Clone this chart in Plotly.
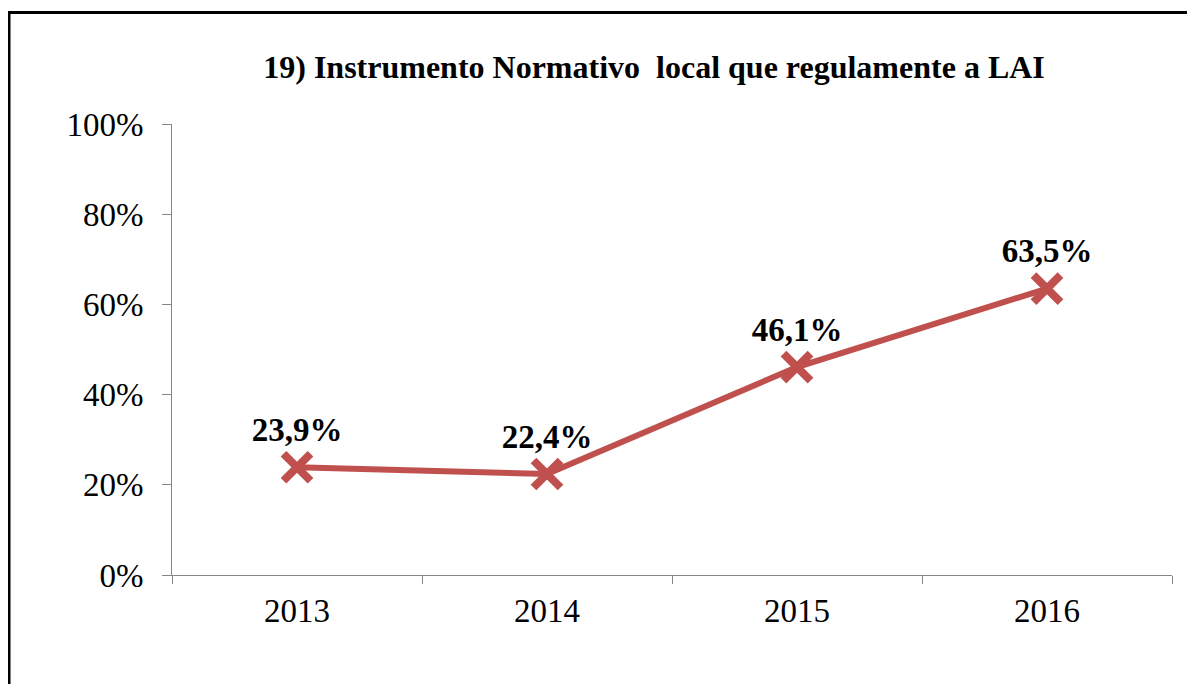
import plotly.graph_objects as go

anos = ['2013', '2014', '2015', '2016']
percentuais = [0.239, 0.224, 0.461, 0.635]
titulo = '19) Instrumento Normativo  local que regulamente a LAI'

cor_linha = '#C0504D'
cor_eixo = '#868686'
fonte = 'Liberation Serif'

fig = go.Figure()
fig.add_trace(go.Scatter(
    x=anos,
    y=percentuais,
    mode='lines+markers+text',
    line=dict(color=cor_linha, width=6),
    marker=dict(symbol='x-thin', size=27, line=dict(color=cor_linha, width=8)),
    texttemplate='%{y:.1%}',
    textposition='top center',
    textfont=dict(family=fonte, size=33, color='black', weight='bold'),
    cliponaxis=False,
    showlegend=False,
))

# a página tem 8px de margem no body, por isso tudo vai 8px para cima/esquerda
fig.update_layout(
    width=1195,
    height=684,
    margin=dict(l=164, r=31, t=116, b=117),
    paper_bgcolor='white',
    plot_bgcolor='white',
    separators=',.',
    font=dict(family=fonte, color='black'),
    title=dict(
        text='<b>' + titulo + '</b>',
        x=0.482, xref='paper', xanchor='center',
        y=1 - 59 / 684, yref='container', yanchor='middle',
        font=dict(family=fonte, size=32, color='black'),
    ),
    shapes=[dict(
        type='rect', xref='paper', yref='paper',
        x0=-0.163, x1=1.05, y0=-0.4, y1=1.247,
        line=dict(color='black', width=3),
        fillcolor='rgba(0,0,0,0)', layer='below',
    )],
)

fig.update_xaxes(
    type='category',
    range=[-0.5, 3.5],
    showline=True, linecolor=cor_eixo, linewidth=1,
    ticks='outside', tickson='boundaries', ticklen=8, tickcolor=cor_eixo,
    ticklabelstandoff=6,
    showgrid=False, zeroline=False,
    tickfont=dict(family=fonte, size=33, color='black'),
)
fig.update_yaxes(
    range=[0, 1],
    dtick=0.2,
    tickformat='.0%',
    showline=True, linecolor=cor_eixo, linewidth=1,
    ticks='outside', ticklen=9, tickcolor=cor_eixo,
    ticklabelstandoff=12,
    showgrid=False, zeroline=False,
    tickfont=dict(family=fonte, size=33, color='black'),
)

fig.write_html('out.html')
